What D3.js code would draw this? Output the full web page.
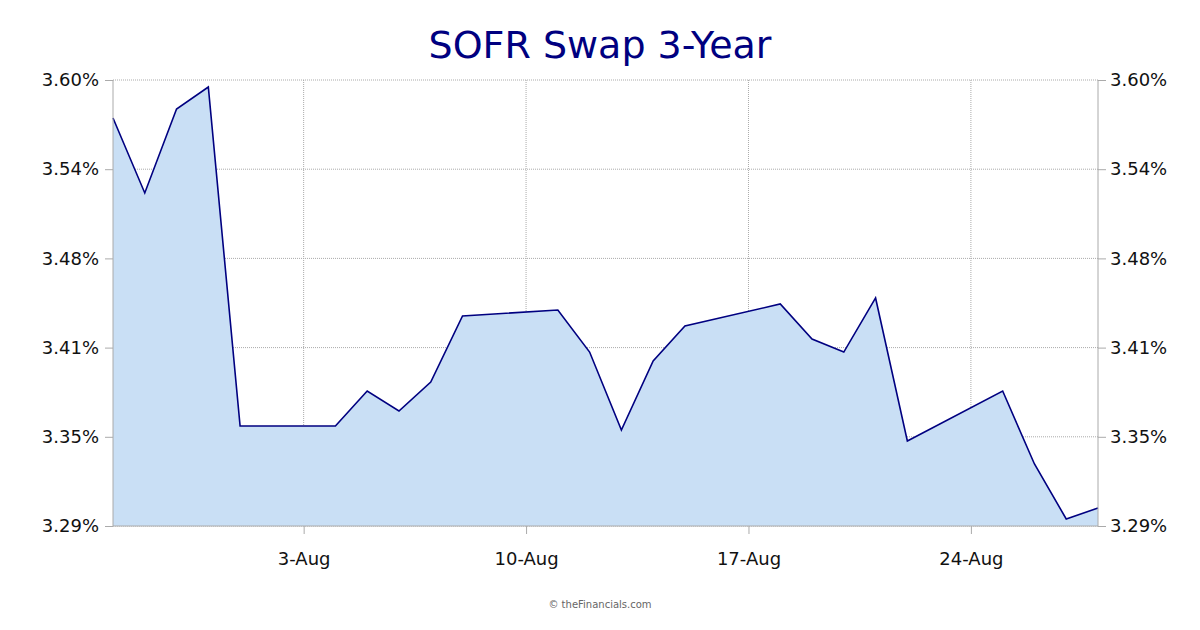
<!DOCTYPE html>
<html>
<head>
<meta charset="utf-8">
<script src="https://cdn.jsdelivr.net/npm/d3@7"></script>
<style>
  body { margin: 0; background: #fff; }
  svg { font-family: "DejaVu Sans", Verdana, sans-serif; }
</style>
</head>
<body>
<div id="chart"></div>
<script>
// SOFR Swap 3-Year – daily values, Jul 28 to Aug 28
const dates = ['2025-07-28','2025-07-29','2025-07-30','2025-07-31','2025-08-01',
  '2025-08-04','2025-08-05','2025-08-06','2025-08-07','2025-08-08',
  '2025-08-11','2025-08-12','2025-08-13','2025-08-14','2025-08-15',
  '2025-08-18','2025-08-19','2025-08-20','2025-08-21','2025-08-22',
  '2025-08-25','2025-08-26','2025-08-27','2025-08-28'];
const rates = [3.5736, 3.5215, 3.5798, 3.5951, 3.3595,
  3.3595, 3.3838, 3.3699, 3.3901, 3.4360,
  3.4401, 3.4109, 3.3567, 3.4047, 3.4290,
  3.4443, 3.4200, 3.4109, 3.4485, 3.3491,
  3.3838, 3.3331, 3.2949, 3.3025];
const xTickDates = ['2025-08-03','2025-08-10','2025-08-17','2025-08-24'];
const yTicks = [3.29, 3.352, 3.414, 3.476, 3.538, 3.60];

const W = 1200, H = 630;
const m = { left: 113, right: 102, top: 80, bottom: 104 };
const parse = d3.utcParse('%Y-%m-%d');
const data = dates.map((d, i) => ({ date: parse(d), v: rates[i] }));

const svg = d3.select('#chart').append('svg').attr('width', W).attr('height', H);

const x = d3.scaleUtc()
  .domain([parse('2025-07-28'), parse('2025-08-28')])
  .range([m.left, W - m.right]);
const y = d3.scaleLinear().domain([3.29, 3.60]).range([H - m.bottom, m.top]);

svg.append('text').attr('x', 600).attr('y', 58).attr('text-anchor', 'middle')
  .attr('font-size', 38).attr('fill', '#000080').text('SOFR Swap 3-Year');

// grid
svg.append('g').selectAll('line').data(yTicks).join('line')
  .attr('x1', m.left).attr('x2', W - m.right)
  .attr('y1', d => y(d)).attr('y2', d => y(d))
  .attr('stroke', '#aaa').attr('stroke-dasharray', '1,1');
svg.append('g').selectAll('line').data(xTickDates.map(parse)).join('line')
  .attr('x1', d => x(d)).attr('x2', d => x(d))
  .attr('y1', m.top).attr('y2', H - m.bottom)
  .attr('stroke', '#aaa').attr('stroke-dasharray', '1,1');

// area + line
svg.append('path').datum(data)
  .attr('fill', '#c9dff5')
  .attr('d', d3.area().x(d => x(d.date)).y0(y(3.29)).y1(d => y(d.v)));
svg.append('path').datum(data)
  .attr('fill', 'none').attr('stroke', '#000080').attr('stroke-width', 1.6)
  .attr('d', d3.line().x(d => x(d.date)).y(d => y(d.v)));

// frame
svg.append('line').attr('x1', m.left).attr('x2', m.left).attr('y1', m.top).attr('y2', H - m.bottom).attr('stroke', '#aaa');
svg.append('line').attr('x1', W - m.right).attr('x2', W - m.right).attr('y1', m.top).attr('y2', H - m.bottom).attr('stroke', '#aaa');
svg.append('line').attr('x1', m.left).attr('x2', W - m.right).attr('y1', H - m.bottom).attr('y2', H - m.bottom).attr('stroke', '#aaa');

const fmt = d => d.toFixed(2) + '%';
const axL = svg.append('g').attr('transform', `translate(${m.left},0)`)
  .call(d3.axisLeft(y).tickValues(yTicks).tickFormat(fmt).tickSize(8).tickPadding(6));
const axR = svg.append('g').attr('transform', `translate(${W - m.right},0)`)
  .call(d3.axisRight(y).tickValues(yTicks).tickFormat(fmt).tickSize(8).tickPadding(4));
const axB = svg.append('g').attr('transform', `translate(0,${H - m.bottom})`)
  .call(d3.axisBottom(x).tickValues(xTickDates.map(parse)).tickFormat(d3.utcFormat('%-d-%b')).tickSize(8).tickPadding(18));
[axL, axR, axB].forEach(a => {
  a.select('.domain').remove();
  a.selectAll('line').attr('stroke', '#aaa');
  a.selectAll('text').attr('font-size', 18).attr('fill', '#111')
    .attr('font-family', '"DejaVu Sans", Verdana, sans-serif');
});

svg.append('text').attr('x', 600).attr('y', 608).attr('text-anchor', 'middle')
  .attr('font-size', 10).attr('fill', '#666').text('© theFinancials.com');
</script>
</body>
</html>
